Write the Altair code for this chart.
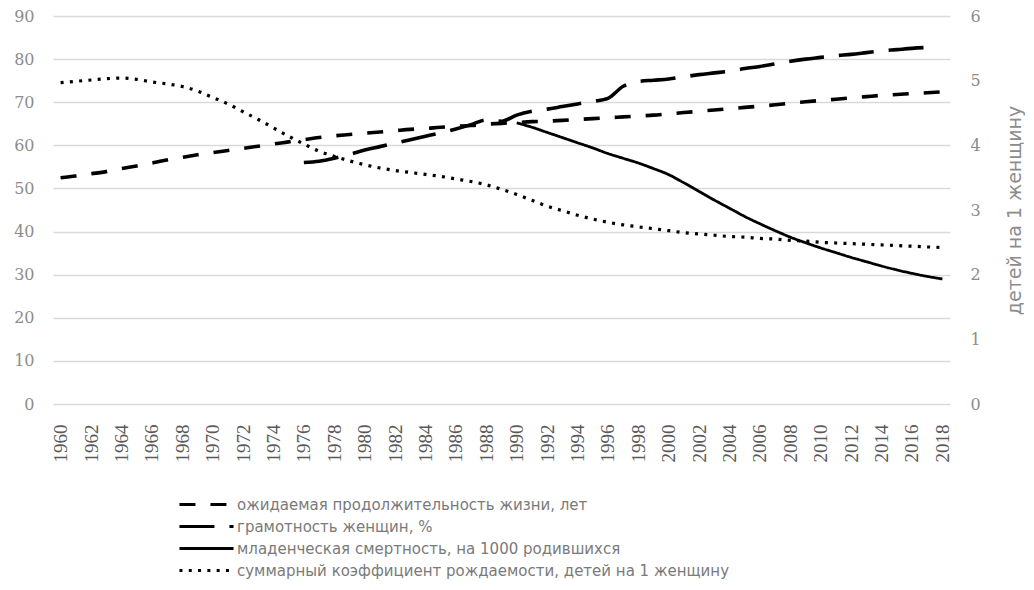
import altair as alt
import pandas as pd

years = list(range(1960, 2019))

S1 = "ожидаемая продолжительность жизни, лет"
S2 = "грамотность женщин, %"
S3 = "младенческая смертность, на 1000 родившихся"
S4 = "суммарный коэффициент рождаемости, детей на 1 женщину"

life = [52.5, 52.9, 53.4, 53.9, 54.6, 55.2, 55.9, 56.6, 57.2, 57.8,
        58.3, 58.8, 59.3, 59.8, 60.3, 60.8, 61.3, 61.8, 62.2, 62.5,
        62.8, 63.1, 63.4, 63.7, 63.9, 64.2, 64.4, 64.6, 64.9, 65.1,
        65.3, 65.5, 65.6, 65.8, 66.0, 66.2, 66.4, 66.6, 66.8, 67.0,
        67.3, 67.6, 67.9, 68.2, 68.5, 68.8, 69.1, 69.4, 69.8, 70.1,
        70.4, 70.7, 71.0, 71.3, 71.6, 71.8, 72.0, 72.2, 72.4]

literacy_years = list(range(1976, 2018))
literacy = [56.0, 56.3, 57.0, 57.9, 58.9, 59.7, 60.5, 61.3, 62.1, 62.9,
            63.8, 64.8, 65.9, 65.6, 67.0, 67.9, 68.4, 69.0, 69.6, 70.2,
            70.9, 73.7, 74.8, 75.1, 75.4, 75.9, 76.4, 76.8, 77.2, 77.8,
            78.3, 78.9, 79.5, 80.0, 80.4, 80.8, 81.1, 81.5, 81.9, 82.2,
            82.5, 82.7]

infant_years = list(range(1990, 2019))
infant = [65.2, 64.2, 63.0, 61.8, 60.6, 59.4, 58.1, 57.0, 55.9, 54.6,
          53.2, 51.3, 49.3, 47.3, 45.4, 43.5, 41.8, 40.2, 38.7, 37.4,
          36.2, 35.1, 34.0, 33.0, 32.0, 31.1, 30.3, 29.6, 29.0]

fertility = [4.97, 4.99, 5.01, 5.03, 5.04, 5.02, 4.98, 4.95, 4.91, 4.84,
             4.74, 4.64, 4.52, 4.40, 4.27, 4.14, 4.02, 3.91, 3.83, 3.76,
             3.70, 3.65, 3.61, 3.58, 3.55, 3.52, 3.48, 3.44, 3.39, 3.32,
             3.24, 3.15, 3.06, 2.99, 2.92, 2.86, 2.81, 2.77, 2.74, 2.71,
             2.68, 2.65, 2.63, 2.61, 2.59, 2.58, 2.56, 2.55, 2.53, 2.52,
             2.50, 2.49, 2.48, 2.47, 2.46, 2.45, 2.44, 2.43, 2.42]

left_ticks = [0, 10, 20, 30, 40, 50, 60, 70, 80, 90]
right_ticks = [0, 1, 2, 3, 4, 5, 6]
x_ticks = list(range(1960, 2019, 2))

rows = []
for y, v in zip(years, life):
    rows.append({"year": y, "value": v, "series": S1, "w": "a"})
for y, v in zip(literacy_years, literacy):
    rows.append({"year": y, "value": v, "series": S2, "w": "a"})
for y, v in zip(infant_years, infant):
    rows.append({"year": y, "value": v, "series": S3, "w": "b"})
left_df = pd.DataFrame(rows)
right_df = pd.DataFrame({"year": years, "value": fertility, "series": S4})

domain = [S1, S2, S3, S4]
dash_scale = alt.Scale(domain=domain,
                       range=[[16, 15], [35, 15], [1, 0], [3, 6.3]])

legend_dash_expr = (
    f"datum.value === '{S1}' ? [11, 8] : "
    f"datum.value === '{S2}' ? [22, 10] : "
    f"datum.value === '{S4}' ? [2, 3.6] : [1, 0]"
)
legend_dash_cond = {
    "condition": [
        {"test": f"datum.value === '{S1}'", "value": [11, 8]},
        {"test": f"datum.value === '{S2}'", "value": [22, 10]},
        {"test": f"datum.value === '{S4}'", "value": [2, 3.6]},
    ],
    "value": [1, 0],
}
encode_variants = [
    {"symbols": {"strokeDash": legend_dash_cond}},
    {"symbols": {"strokeDash": {"expr": legend_dash_expr}}},
    {"symbols": {"strokeDash": {"signal": legend_dash_expr}}},
    None,
]


def build(enc):
    x_enc = alt.X("year:Q",
                  scale=alt.Scale(domain=[1959.5, 2018.5], nice=False, zero=False),
                  axis=alt.Axis(values=x_ticks, format="d", labelAngle=270,
                                labelFont="Liberation Serif", labelFontSize=19,
                                labelColor="#595959", labelPadding=20,
                                grid=False, domain=False, ticks=False, title=None,
                                labelAlign="right", labelBaseline="middle"))
    legend_kw = dict(title=None, orient="none", legendX=146, legendY=481,
                     direction="vertical", symbolType="M-5,0H5",
                     symbolSize=117, symbolStrokeWidth=3,
                     symbolStrokeColor="black",
                     labelFont="DejaVu Sans", labelFontSize=15,
                     labelColor="#7a7a7a", labelLimit=700, rowPadding=6,
                     labelOffset=23)
    if enc is not None:
        legend_kw["encode"] = enc
    legend = alt.Legend(**legend_kw)

    left = alt.Chart(left_df).mark_line(color="black", interpolate="monotone").encode(
        x=x_enc,
        y=alt.Y("value:Q", scale=alt.Scale(domain=[0, 90], nice=False),
                axis=alt.Axis(values=left_ticks, title=None, grid=True,
                              gridColor="#d9d9d9", gridWidth=1.3,
                              domain=False, ticks=False, labelPadding=19,
                              labelFont="DejaVu Serif", labelFontSize=16,
                              labelColor="#8c8c8c")),
        strokeDash=alt.StrokeDash("series:N", scale=dash_scale, legend=legend),
        strokeWidth=alt.StrokeWidth("w:N", scale=alt.Scale(domain=["a", "b"], range=[3.6, 2.8]), legend=None),
        detail="series:N",
    )

    right = alt.Chart(right_df).mark_line(color="black", interpolate="monotone",
                                         strokeWidth=3.2).encode(
        x=x_enc,
        y=alt.Y("value:Q", scale=alt.Scale(domain=[0, 6], nice=False),
                axis=alt.Axis(values=right_ticks, orient="right", grid=False,
                              domain=False, ticks=False, labelPadding=20,
                              labelFont="DejaVu Serif", labelFontSize=16,
                              labelColor="#8c8c8c",
                              title="детей на 1 женщину", titleAngle=270,
                              titleFont="DejaVu Sans", titleFontSize=19,
                              titleFontWeight="normal", titleColor="#8c8c8c",
                              titlePadding=44)),
        strokeDash=alt.StrokeDash("series:N", scale=dash_scale, legend=legend),
    )

    ch = alt.layer(left, right).resolve_scale(y="independent").properties(
        width=897, height=388,
        padding={"left": 5, "top": 0, "right": 0, "bottom": 0},
    ).configure_view(stroke=None)
    ch.to_dict()
    return ch


chart = None
for variant in encode_variants:
    try:
        chart = build(variant)
        break
    except Exception:
        continue

chart.save("out.html", embed_options={"renderer": "svg", "actions": False})
